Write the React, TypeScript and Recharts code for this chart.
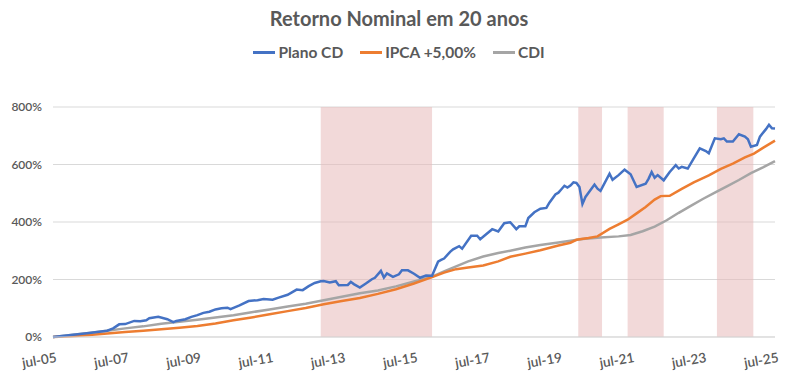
import React from 'react';
import { LineChart, Line, XAxis, YAxis, CartesianGrid, ReferenceArea } from 'recharts';

// month index: 0 = jul-05, 240 = jul-25
const tickMonths = [0, 24, 48, 72, 96, 120, 144, 168, 192, 216, 240];
const tickLabels = ['jul-05', 'jul-07', 'jul-09', 'jul-11', 'jul-13', 'jul-15', 'jul-17', 'jul-19', 'jul-21', 'jul-23', 'jul-25'];
const yTicks = [0, 200, 400, 600, 800];

const planoCD: [number, number][] = [
  [0, 0], [6, 7], [12, 14], [18, 22], [20, 30], [22, 44], [24, 45], [27, 56], [29, 55], [31, 58], [32, 65],
  [35, 70], [38, 62], [40, 52], [41, 56], [44, 62], [46, 70], [48, 76], [50, 84], [52, 88], [54, 96],
  [56, 100], [58, 102], [59, 97], [62, 110], [65, 125], [68, 128], [70, 132], [73, 130], [75, 137],
  [78, 147], [81, 165], [83, 163], [85, 177], [87, 188], [89, 194], [90, 195], [92, 190], [94, 194],
  [95, 180], [98, 181], [99, 192], [100, 184], [102, 172], [104, 186], [106, 201], [107, 206], [109, 230],
  [110, 207], [111, 221], [113, 209], [115, 218], [116, 232], [118, 232], [120, 220], [122, 206],
  [124, 214], [126, 213], [128, 262], [129, 268], [130, 273], [132, 296], [133, 305], [135, 316],
  [136, 307], [139, 352], [141, 352], [142, 340], [146, 375], [148, 367], [150, 396], [152, 399],
  [154, 375], [155, 385], [157, 385], [158, 414], [160, 434], [162, 446], [164, 449], [165, 467],
  [167, 496], [168, 502], [169, 514], [170, 526], [171, 520], [172, 527], [173, 538], [174, 536],
  [175, 522], [176, 463], [177, 487], [180, 530], [181, 516], [182, 508], [185, 568], [186, 547],
  [188, 563], [190, 582], [192, 566], [194, 522], [197, 533], [198, 551], [199, 574], [200, 554],
  [201, 563], [203, 545], [205, 574], [207, 598], [208, 586], [209, 592], [211, 586], [213, 621],
  [215, 656], [217, 647], [218, 639], [220, 691], [222, 688], [223, 691], [224, 680], [226, 680],
  [228, 705], [230, 697], [231, 688], [232, 662], [234, 668], [235, 697], [237, 723], [238, 738],
  [239, 726], [240, 725],
];

const ipca: [number, number][] = [
  [0, 0], [6, 3], [12, 7], [18, 12], [24, 17], [30, 22], [36, 27], [42, 32], [48, 38], [54, 47],
  [60, 58], [66, 68], [72, 79], [78, 90], [84, 101], [90, 114], [96, 125], [102, 136], [108, 150],
  [114, 166], [120, 186], [126, 208], [130, 224], [134, 236], [138, 242], [143, 249], [148, 263],
  [152, 279], [157, 290], [162, 302], [168, 318], [172, 328], [174, 338], [178, 344], [181, 350],
  [185, 376], [188, 392], [191, 408], [194, 430], [197, 452], [200, 478], [202, 490], [205, 491],
  [209, 515], [213, 538], [218, 562], [222, 585], [226, 603], [230, 625], [233, 638], [236, 658],
  [240, 683],
];

const cdi: [number, number][] = [
  [0, 0], [6, 7], [12, 14], [18, 22], [24, 30], [30, 37], [36, 46], [42, 53], [48, 60], [54, 68],
  [60, 76], [66, 86], [72, 96], [78, 106], [84, 116], [90, 128], [96, 140], [102, 152], [108, 162],
  [114, 176], [120, 193], [126, 210], [130, 228], [134, 246], [138, 263], [143, 280], [148, 292],
  [152, 300], [157, 311], [162, 320], [168, 329], [172, 335], [176, 341], [182, 346], [188, 350],
  [192, 355], [196, 368], [200, 384], [204, 406], [208, 432], [212, 456], [216, 480], [220, 502],
  [224, 524], [228, 546], [232, 570], [236, 590], [240, 612],
];

// shaded periods (start month, end month)
const shadedPeriods: [number, number][] = [
  [89, 126],
  [174.6, 182.5],
  [191, 203],
  [220.7, 232.8],
];

const seriesNames = ['Plano CD', 'IPCA +5,00%', 'CDI'];
const seriesColors = ['#4472C4', '#ED7D31', '#A5A5A5'];
const seriesData = [planoCD, ipca, cdi].map((s) => s.map(([m, v]) => ({ m, v })));

const FONT = 'Lato, "Open Sans", sans-serif';
const TEXT = '#595959';

const XTick = (props: any) => {
  const { x, y, payload } = props;
  const idx = tickMonths.indexOf(payload.value);
  const label = idx >= 0 ? tickLabels[idx] : '';
  const ax = x + 2;
  const ay = y + 4;
  return (
    <text
      x={ax}
      y={ay}
      dy={13}
      transform={`rotate(-10 ${ax} ${ay})`}
      textAnchor="end"
      fill={TEXT}
      fontSize={13.5}
      fontFamily={FONT}
      fontWeight={600}
    >
      {label}
    </text>
  );
};

export default function App() {
  return (
    <div style={{ position: 'absolute', left: 0, top: 0, width: 798, height: 383, background: '#fff', fontFamily: FONT }}>
      <div
        style={{
          position: 'absolute', left: 0, top: 5, width: 798, textAlign: 'center',
          fontSize: 20, fontWeight: 700, color: TEXT, lineHeight: '26px',
        }}
      >
        Retorno Nominal em 20 anos
      </div>
      <div
        style={{
          position: 'absolute', left: 0, top: 42, width: 798, display: 'flex', justifyContent: 'center',
          alignItems: 'center', fontSize: 15.5, fontWeight: 700, color: TEXT, lineHeight: '20px',
        }}
      >
        {seriesNames.map((n, i) => (
          <div key={n} style={{ display: 'flex', alignItems: 'center', marginLeft: i === 0 ? 0 : 17 }}>
            <div style={{ width: 22, height: 3, background: seriesColors[i], marginRight: 3 }} />
            <span>{n}</span>
          </div>
        ))}
      </div>
      <div style={{ position: 'absolute', left: 0, top: 0 }}>
        <LineChart width={798} height={383} margin={{ top: 107, right: 23, left: 8, bottom: 6 }}>
          <CartesianGrid horizontal vertical={false} stroke="#D9D9D9" />
          {shadedPeriods.map(([a, b], i) => (
            <ReferenceArea key={i} x1={a} x2={b} y1={0} y2={800} fill="#E8B9B9" fillOpacity={0.55} stroke="none" ifOverflow="visible" />
          ))}
          <XAxis
            type="number"
            dataKey="m"
            domain={[0, 240]}
            ticks={tickMonths}
            interval={0}
            tickLine={false}
            axisLine={{ stroke: '#D9D9D9' }}
            height={40}
            tick={<XTick />}
            allowDuplicatedCategory={false}
          />
          <YAxis
            type="number"
            domain={[0, 800]}
            ticks={yTicks}
            width={45}
            tickLine={false}
            axisLine={false}
            tickMargin={5}
            tickFormatter={(v: number) => `${v}%`}
            tick={{ fill: TEXT, fontSize: 12, fontFamily: FONT, fontWeight: 600 }}
          />
          {seriesData.map((d, i) => (
            <Line
              key={seriesNames[i]}
              data={d}
              dataKey="v"
              name={seriesNames[i]}
              stroke={seriesColors[i]}
              strokeWidth={2.5}
              dot={false}
              isAnimationActive={false}
              type="linear"
            />
          )).reverse()}
        </LineChart>
      </div>
    </div>
  );
}
